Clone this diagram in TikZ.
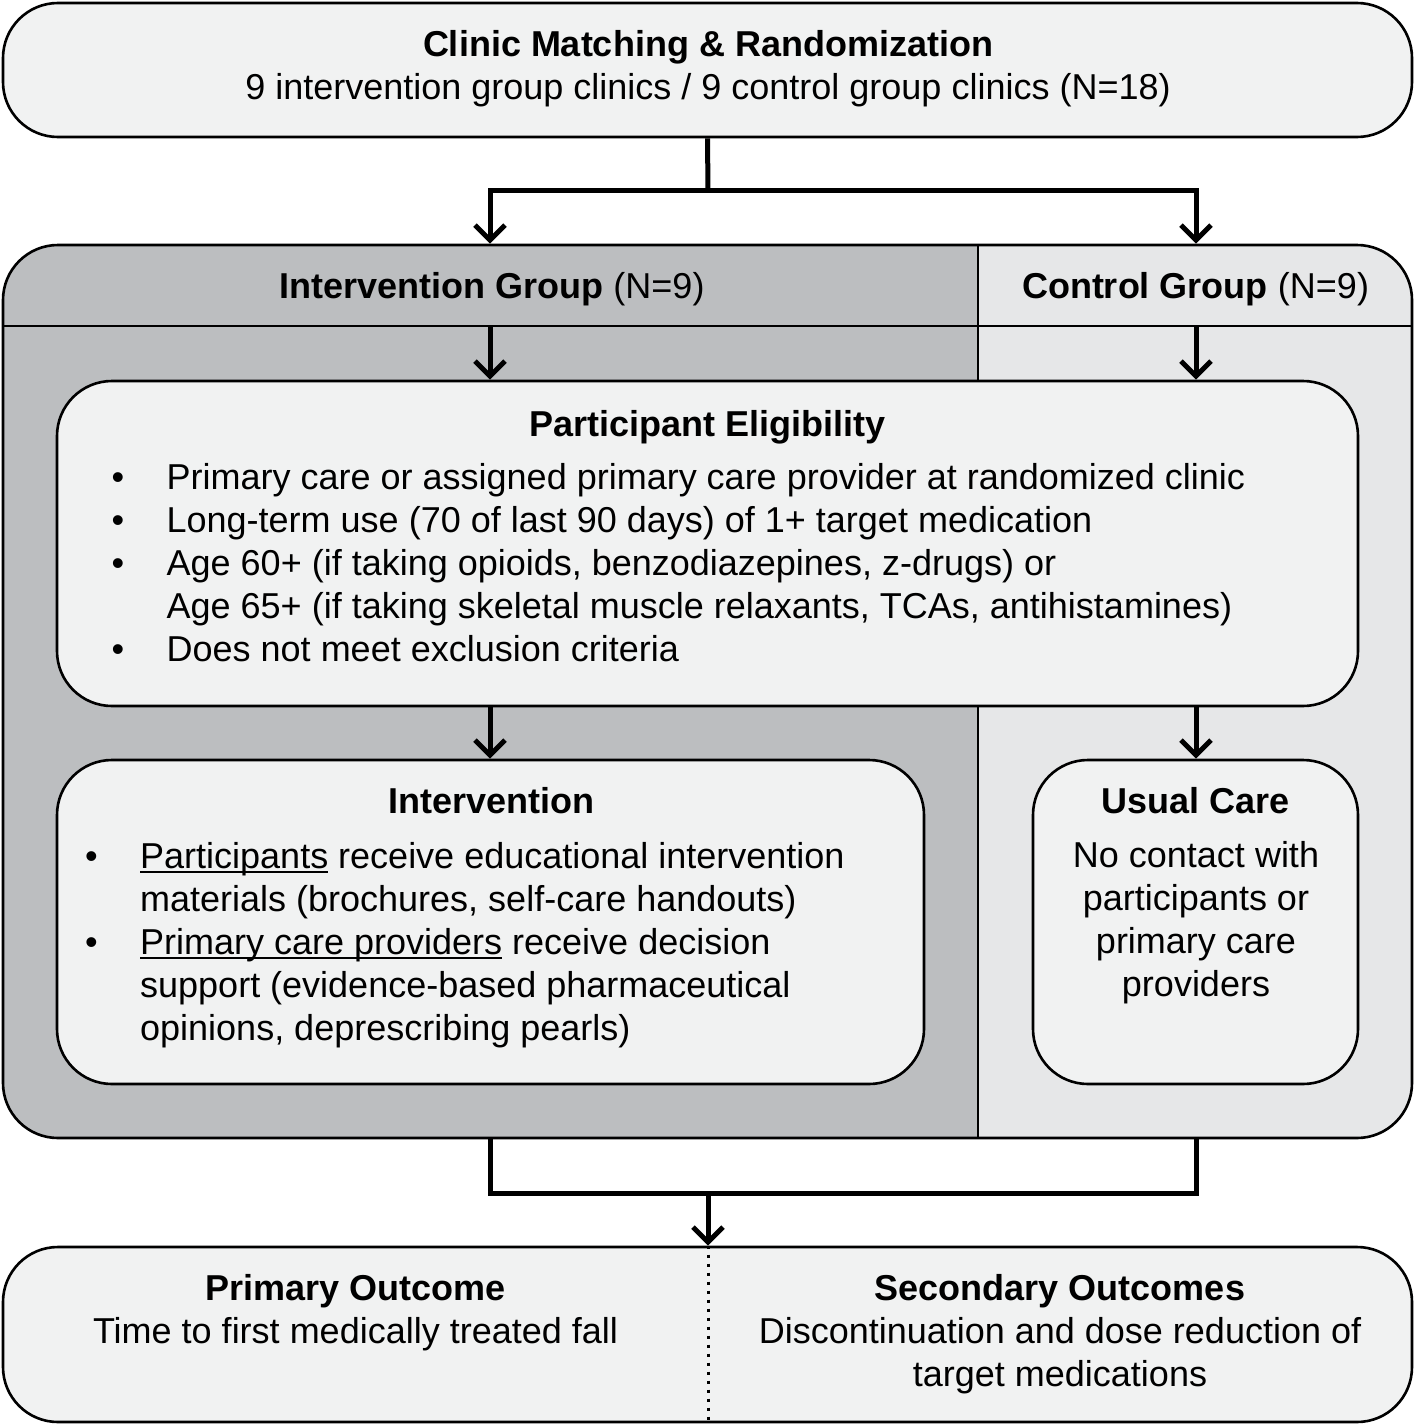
\documentclass[tikz,border=0pt]{standalone}
\usepackage{fontspec}
\setmainfont{Liberation Sans}
\usetikzlibrary{arrows.meta}
\definecolor{grpdark}{RGB}{188,190,192}
\definecolor{grplight}{RGB}{230,231,232}
\definecolor{boxfill}{RGB}{241,242,242}
\newcommand\ulx[1]{\setbox0\hbox{#1}\rlap{\rule[-5pt]{\wd0}{2pt}}\box0\relax}
\newcommand\bul{\makebox[55pt][l]{•}}
\begin{document}
\begin{tikzpicture}[x=1pt,y=-1pt,
  boxstyle/.style={draw=black, line width=2.6pt, fill=boxfill, rounded corners=55pt, inner sep=0pt},
  outline/.style={draw=black, line width=2.6pt, rounded corners=55pt, inner sep=0pt},
  txt/.style={inner sep=0pt, font=\fontsize{36}{43.2}\selectfont},
  conn/.style={line width=5pt},
  arr/.style={line width=5pt, -{Straight Barb[length=15pt,width=30pt]}}]
\useasboundingbox (0,0) rectangle (1416,1427);
\fill[white] (0,0) rectangle (1416,1427);

% column coordinates
\coordinate (cx1) at (490,0);
\coordinate (cx2) at (1196,0);
\coordinate (jt) at (708,190);
\coordinate (hline) at (0,326);
\coordinate (jb) at (708,1193);

% top box
\node[boxstyle, minimum width=1409pt, minimum height=134pt] (top) at (707.5,70) {};
\node[txt, anchor=base] (t1) at (708,56) {\bfseries Clinic Matching \& Randomization};
\node[txt, anchor=base] (t2) at (708,99) {9 intervention group clinics / 9 control group clinics (N=18)};

% group box fills
\begin{scope}
\clip[rounded corners=55pt] (3,245) rectangle (1412,1138);
\fill[grpdark] (3,245) rectangle (978,1138);
\fill[grplight] (978,245) rectangle (1412,1138);
\end{scope}
\draw[line width=2.6pt] (3,326) -- (1412,326);
\draw[line width=2.6pt] (978,245) -- (978,1138);
\node[outline, minimum width=1409pt, minimum height=893pt] (grp) at (707.5,691.5) {};
\node[txt, anchor=base] (ih) at (492,298) {\bfseries Intervention Group\mdseries{} (N=9)};
\node[txt, anchor=base] (ch) at (1195.5,298) {\bfseries Control Group\mdseries{} (N=9)};

% eligibility
\node[boxstyle, minimum width=1301pt, minimum height=325pt] (elig) at (707.5,543.5) {};
\node[txt, anchor=base] (et) at (707.5,436) {\bfseries Participant Eligibility};
\node[txt, anchor=base west] (e1) at (111.5,489) {\bul Primary care or assigned primary care provider at randomized clinic};
\node[txt, anchor=base west] (e2) at (111.5,532.2) {\bul Long-term use (70 of last 90 days) of 1+ target medication};
\node[txt, anchor=base west] (e3) at (111.5,575.4) {\bul Age 60+ (if taking opioids, benzodiazepines, z-drugs) or};
\node[txt, anchor=base west] (e4) at (111.5,618.6) {\hspace*{55pt}Age 65+ (if taking skeletal muscle relaxants, TCAs, antihistamines)};
\node[txt, anchor=base west] (e5) at (111.5,661.8) {\bul Does not meet exclusion criteria};

% intervention
\node[boxstyle, minimum width=867pt, minimum height=324pt] (intv) at (490.5,922) {};
\node[txt, anchor=base] (it) at (491.5,813) {\bfseries Intervention};
\node[txt, anchor=base west] (i1) at (85,868) {\bul\ulx{Participants} receive educational intervention};
\node[txt, anchor=base west] (i2) at (85,911.2) {\hspace*{55pt}materials (brochures, self-care handouts)};
\node[txt, anchor=base west] (i3) at (85,954.4) {\bul\ulx{Primary care providers} receive decision};
\node[txt, anchor=base west] (i4) at (85,997.6) {\hspace*{55pt}support (evidence-based pharmaceutical};
\node[txt, anchor=base west] (i5) at (85,1040.8) {\hspace*{55pt}opinions, deprescribing pearls)};

% usual care
\node[boxstyle, minimum width=325pt, minimum height=324pt] (usual) at (1195.5,922) {};
\node[txt, anchor=base] (ut) at (1196,813) {\bfseries Usual Care};
\node[txt, anchor=base] (u1) at (1196,867) {No contact with};
\node[txt, anchor=base] (u2) at (1196,910.2) {participants or};
\node[txt, anchor=base] (u3) at (1196,953.4) {primary care};
\node[txt, anchor=base] (u4) at (1196,996.6) {providers};

% bottom box
\node[boxstyle, minimum width=1409pt, minimum height=175pt] (bot) at (707.5,1334.5) {};
\draw[line width=3pt, dash pattern=on 3pt off 6pt] (jb |- bot.north) -- (jb |- bot.south);
\node[txt, anchor=base] (pt) at (355.5,1300) {\bfseries Primary Outcome};
\node[txt, anchor=base] (p1) at (355.5,1343) {Time to first medically treated fall};
\node[txt, anchor=base] (st) at (1060,1300) {\bfseries Secondary Outcomes};
\node[txt, anchor=base] (s1) at (1060,1343) {Discontinuation and dose reduction of};
\node[txt, anchor=base] (s2) at (1060,1386.2) {target medications};

% connectors
\draw[conn] (top.south) -- (jt);
\draw[arr] (jt) -| (cx1 |- grp.north);
\draw[arr] (jt) -| (cx2 |- grp.north);
\draw[arr] (cx1 |- hline) -- (cx1 |- elig.north);
\draw[arr] (cx2 |- hline) -- (cx2 |- elig.north);
\draw[arr] (cx1 |- elig.south) -- (cx1 |- intv.north);
\draw[arr] (cx2 |- elig.south) -- (cx2 |- usual.north);
\draw[conn] (cx1 |- grp.south) -- (cx1 |- jb) -- (cx2 |- jb) -- (cx2 |- grp.south);
\draw[arr] (jb) -- (jb |- bot.north);
\end{tikzpicture}
\end{document}
